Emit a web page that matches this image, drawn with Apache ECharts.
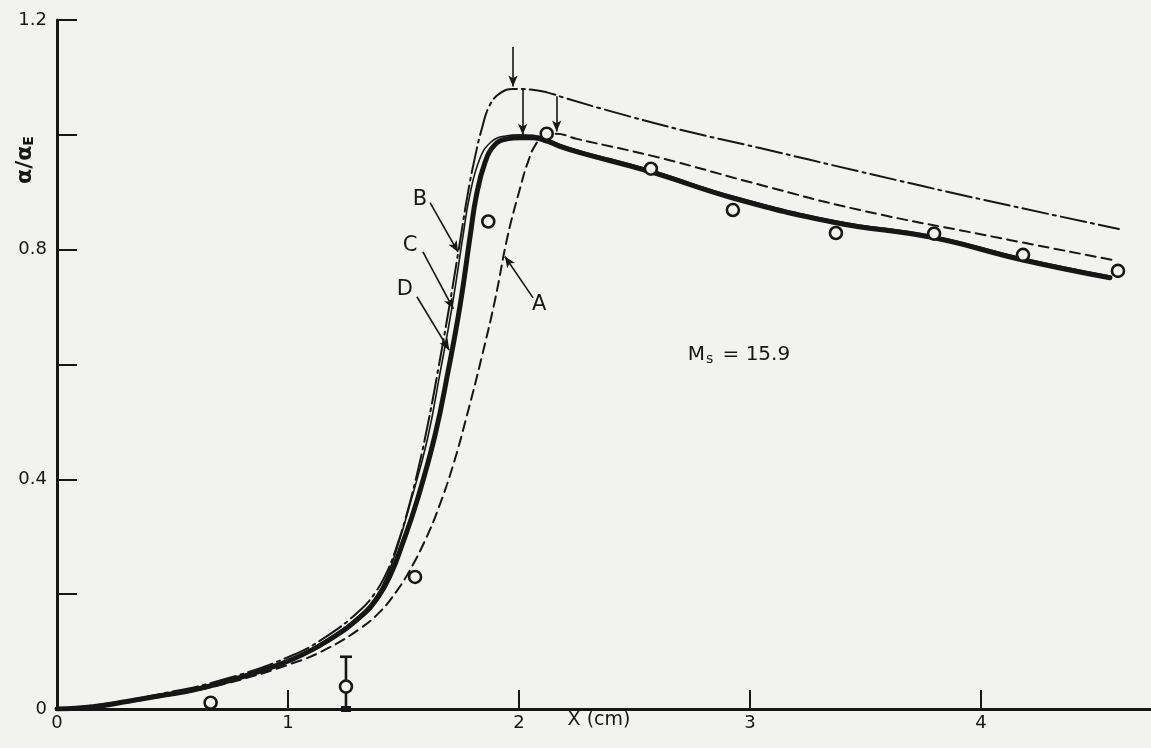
<!DOCTYPE html>
<html>
<head>
<meta charset="utf-8">
<script src="https://cdn.jsdelivr.net/npm/echarts@6/dist/echarts.min.js"></script>
<style>
  html, body { margin: 0; padding: 0; background: #f2f2f0; }
  #chart { width: 1151px; height: 748px; }
</style>
</head>
<body>
<div id="chart"></div>
<script>
// Profiles of alpha/alpha_E against distance X (cm), Ms = 15.9
// Curve A (dashed)
const curveA = [
  [0, 0], [0.156, 0.004], [0.446, 0.021], [0.736, 0.045], [1.022, 0.080],
  [1.169, 0.105], [1.312, 0.140], [1.400, 0.170], [1.470, 0.205], [1.528, 0.242],
  [1.595, 0.295], [1.650, 0.348], [1.715, 0.425], [1.775, 0.512], [1.840, 0.615],
  [1.896, 0.712], [1.950, 0.822], [2.004, 0.906], [2.039, 0.953], [2.072, 0.983],
  [2.110, 0.998], [2.160, 1.002], [2.250, 0.993], [2.610, 0.960], [3.043, 0.913],
  [3.476, 0.869], [4.009, 0.826], [4.571, 0.782]
];
// Curve B (dash-dot)
const curveB = [
  [0, 0], [0.156, 0.006], [0.446, 0.026], [0.736, 0.053], [1.022, 0.094],
  [1.169, 0.127], [1.312, 0.172], [1.380, 0.204], [1.430, 0.240], [1.475, 0.288],
  [1.520, 0.348], [1.565, 0.420], [1.610, 0.505], [1.654, 0.600], [1.700, 0.705],
  [1.745, 0.815], [1.779, 0.899], [1.810, 0.962], [1.840, 1.012], [1.874, 1.052],
  [1.920, 1.073], [1.974, 1.080], [2.050, 1.079], [2.121, 1.074], [2.208, 1.063],
  [2.407, 1.040], [2.697, 1.009], [3.043, 0.977], [3.476, 0.936], [4.009, 0.887],
  [4.597, 0.836]
];
// Curve C (thin solid)
const curveC = [
  [0, 0], [0.156, 0.005], [0.446, 0.024], [0.736, 0.050], [1.022, 0.089],
  [1.169, 0.121], [1.312, 0.164], [1.385, 0.198], [1.432, 0.235], [1.472, 0.280],
  [1.527, 0.355], [1.603, 0.469], [1.658, 0.585], [1.710, 0.700], [1.758, 0.825],
  [1.786, 0.893], [1.830, 0.958], [1.880, 0.988], [1.942, 0.998], [2.004, 1.000],
  [2.061, 0.999], [2.121, 0.993], [2.177, 0.983], [2.264, 0.972], [2.567, 0.939],
  [2.926, 0.893], [3.372, 0.850], [3.792, 0.824], [4.182, 0.785], [4.558, 0.754]
];
// Curve D (heavy solid)
const curveD = [
  [0, 0], [0.156, 0.004], [0.303, 0.013], [0.446, 0.023], [0.589, 0.033],
  [0.736, 0.048], [0.879, 0.066], [1.022, 0.087], [1.169, 0.118], [1.312, 0.160],
  [1.390, 0.195], [1.445, 0.235], [1.495, 0.287], [1.558, 0.362], [1.636, 0.476],
  [1.693, 0.588], [1.745, 0.703], [1.790, 0.828], [1.815, 0.893], [1.853, 0.952],
  [1.896, 0.983], [1.948, 0.993], [2.004, 0.995], [2.061, 0.995], [2.121, 0.989],
  [2.177, 0.980], [2.264, 0.969], [2.567, 0.936], [2.926, 0.890], [3.372, 0.847],
  [3.792, 0.821], [4.182, 0.782], [4.558, 0.751]
];
// Measured points
const measured = [
  [0.665, 0.011], [1.251, 0.039], [1.550, 0.230], [1.867, 0.849], [2.120, 1.002],
  [2.571, 0.941], [2.926, 0.869], [3.372, 0.829], [3.797, 0.828], [4.182, 0.791],
  [4.593, 0.763]
];
// Error bar: [x, y, low, high]
const errorBars = [[1.251, 0.039, 0, 0.091]];

// Axis ticks and labels
const xTickValues = [0, 1, 2, 3, 4];
const yLabelValues = [0, 0.4, 0.8, 1.2];
const xMax = 4.736;

// Curve labels and their leader arrows (data coordinates)
const curveLabels = [
  { name: 'B', value: [1.571, 0.887] },
  { name: 'C', value: [1.528, 0.808] },
  { name: 'D', value: [1.506, 0.730] },
  { name: 'A', value: [2.087, 0.704] }
];
const leaderArrows = [
  [[1.615, 0.882], [1.736, 0.796]],
  [[1.584, 0.796], [1.716, 0.697]],
  [[1.558, 0.718], [1.698, 0.625]],
  [[2.061, 0.716], [1.939, 0.788]],
  // arrows marking the peaks
  [[1.974, 1.153], [1.974, 1.084]],
  [[2.016, 1.078], [2.016, 1.000]],
  [[2.163, 1.067], [2.163, 1.006]]
];
const machNote = { value: [2.952, 0.617] };

const INK = '#161616';
const PAPER = '#f2f2f0';
const FONT = 'DejaVu Sans';

const chart = echarts.init(document.getElementById('chart'), null, { renderer: 'canvas' });

function curve(data, lineStyle, z) {
  return {
    type: 'line',
    data: data,
    showSymbol: false,
    symbol: 'none',
    smooth: 0.45,
    silent: true,
    z: z,
    lineStyle: Object.assign({ color: INK, cap: 'round', join: 'round' }, lineStyle)
  };
}

const option = {
  backgroundColor: PAPER,
  animation: false,
  grid: { left: 57, right: 0, top: 20, bottom: 39, outerBoundsMode: 'none', containLabel: false },
  xAxis: {
    type: 'value',
    min: 0,
    max: xMax,
    interval: 1,
    axisLine: { lineStyle: { color: INK, width: 3 } },
    axisTick: { inside: true, length: 19, customValues: xTickValues, lineStyle: { color: INK, width: 2 } },
    axisLabel: {
      customValues: xTickValues,
      color: INK, fontSize: 18, fontFamily: FONT, margin: 5,
      formatter: v => String(v)
    },
    splitLine: { show: false }
  },
  yAxis: {
    type: 'value',
    min: 0,
    max: 1.2,
    interval: 0.2,
    axisLine: { show: true, lineStyle: { color: INK, width: 3 } },
    axisTick: { show: true, inside: true, length: 20, lineStyle: { color: INK, width: 2 } },
    axisLabel: {
      customValues: yLabelValues,
      color: INK, fontSize: 18, fontFamily: FONT, margin: 10,
      formatter: v => (v === 0 ? '0' : v.toFixed(1))
    },
    splitLine: { show: false }
  },
  graphic: [
    {
      // y-axis title, reading upward
      type: 'text',
      x: 25,
      y: 160,
      rotation: Math.PI / 2,
      style: {
        text: '{a|α/α}{e|E}',
        align: 'center',
        verticalAlign: 'middle',
        rich: {
          a: { fontSize: 22, fontWeight: 'bold', fontFamily: FONT, fill: INK },
          e: { fontSize: 14, fontWeight: 'bold', fontFamily: FONT, fill: INK, padding: [8, 0, 0, 0] }
        }
      }
    },
    {
      // x-axis title, on the tick-label row between 2 and 3
      type: 'text',
      x: 599,
      y: 720,
      style: {
        text: 'X (cm)',
        align: 'center',
        verticalAlign: 'middle',
        fontSize: 19,
        fontFamily: FONT,
        fill: INK
      }
    }
  ],
  series: [
    curve(curveA, { width: 2, type: [10, 6] }, 2),
    curve(curveB, { width: 2, type: [26, 5, 3, 5] }, 2),
    curve(curveC, { width: 1.6 }, 3),
    curve(curveD, { width: 5 }, 4),
    {
      type: 'custom',
      data: errorBars,
      z: 5,
      silent: true,
      encode: { x: 0, y: 1 },
      renderItem: function (params, api) {
        const x = api.value(0);
        const top = api.coord([x, api.value(3)]);
        const bot = api.coord([x, api.value(2)]);
        const st = { stroke: INK, lineWidth: 2.6 };
        return {
          type: 'group',
          children: [
            { type: 'line', shape: { x1: top[0], y1: top[1], x2: bot[0], y2: bot[1] }, style: st },
            { type: 'line', shape: { x1: top[0] - 6, y1: top[1], x2: top[0] + 6, y2: top[1] }, style: st },
            { type: 'rect', shape: { x: bot[0] - 5, y: bot[1] - 3, width: 10, height: 6 }, style: { fill: INK } }
          ]
        };
      }
    },
    {
      type: 'scatter',
      data: measured,
      symbol: 'circle',
      symbolSize: 12,
      silent: true,
      z: 6,
      itemStyle: { color: PAPER, borderColor: INK, borderWidth: 2.6, opacity: 1 }
    },
    {
      type: 'scatter',
      data: curveLabels,
      symbolSize: 0.1,
      silent: true,
      z: 7,
      itemStyle: { color: 'rgba(0,0,0,0)', opacity: 1 },
      label: {
        show: true, position: 'inside', formatter: '{b}',
        color: INK, fontSize: 21, fontFamily: FONT
      },
      markLine: {
        silent: true,
        animation: false,
        symbol: ['none', 'arrow'],
        symbolSize: [7, 11],
        label: { show: false },
        emphasis: { disabled: true },
        lineStyle: { color: INK, width: 1.6, type: 'solid', opacity: 1 },
        itemStyle: { color: INK, opacity: 1 },
        data: leaderArrows.map(([a, b]) => [{ coord: a }, { coord: b }])
      }
    },
    {
      type: 'scatter',
      data: [machNote],
      symbolSize: 0.1,
      silent: true,
      z: 7,
      itemStyle: { color: 'rgba(0,0,0,0)', opacity: 1 },
      label: {
        show: true, position: 'inside',
        formatter: '{m|M}{s|s}{m| = 15.9}',
        rich: {
          m: { color: INK, fontSize: 20, fontFamily: FONT, lineHeight: 24 },
          s: { color: INK, fontSize: 14, fontFamily: FONT, lineHeight: 24, padding: [9, 3, 0, 1] }
        }
      }
    }
  ]
};

chart.setOption(option);
</script>
</body>
</html>
